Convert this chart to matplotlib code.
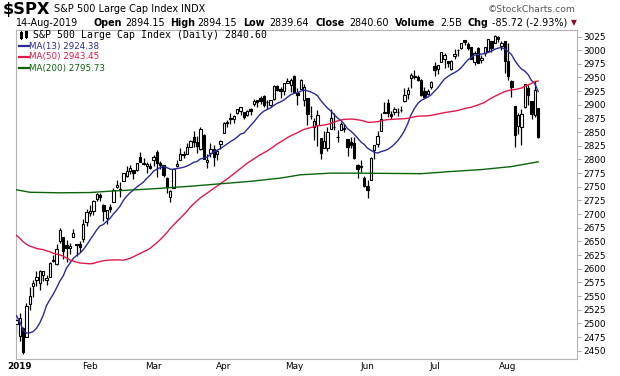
import numpy as np
import pandas as pd
import matplotlib
matplotlib.use('Agg')
import matplotlib.pyplot as plt
from matplotlib.lines import Line2D

# Trading days shown on the chart (31-Dec-2018 .. 14-Aug-2019)
holidays = ['2019-01-01', '2019-01-21', '2019-02-18', '2019-04-19', '2019-05-27', '2019-07-04']
dates = pd.bdate_range('2018-12-31', '2019-08-14', freq='C', holidays=holidays)

# Daily candles, S&P 500
opens = [2498.94,
         2476.96, 2491.92, 2474.33, 2535.61, 2568.11, 2580.00, 2573.51, 2588.11, 2580.31, 2585.10, 2614.75,
         2609.28, 2651.27, 2657.88, 2643.48, 2638.84, 2657.44, 2644.97, 2644.89, 2653.62, 2685.49,
         2702.32, 2706.49, 2728.34, 2735.05, 2717.53, 2692.36, 2712.40, 2722.61, 2750.30, 2743.50,
         2760.24, 2769.28, 2779.05, 2780.24, 2780.67, 2804.35, 2792.36, 2787.50, 2788.11,
         2798.22, 2814.37, 2794.41, 2790.27, 2766.53, 2730.79, 2747.61, 2787.34, 2799.78, 2810.38,
         2810.79, 2822.61, 2840.76, 2831.34, 2819.72, 2844.52, 2796.01, 2812.66, 2819.72, 2809.40, 2828.27,
         2848.63, 2868.24, 2876.09, 2873.99, 2884.16, 2888.46, 2886.58, 2881.37, 2891.92, 2900.86,
         2908.32, 2912.26, 2916.04, 2904.81, 2898.78, 2909.99, 2934.00, 2928.99, 2925.81, 2940.58, 2937.14,
         2952.33, 2922.16, 2929.21, 2908.89, 2913.03, 2879.61, 2859.84, 2863.10, 2840.19, 2820.12, 2820.38,
         2855.80, 2858.60, 2841.94, 2854.02, 2856.06, 2836.70, 2832.41, 2830.03, 2790.25, 2786.94, 2766.15,
         2751.53, 2762.64, 2818.09, 2828.51, 2852.87, 2885.83, 2903.27, 2882.73, 2886.24, 2886.82,
         2889.75, 2906.71, 2920.55, 2949.60, 2952.71, 2951.42, 2945.78, 2926.07, 2919.66, 2932.94,
         2971.41, 2964.66, 2978.08, 2984.25, 2979.77, 2965.52, 2989.30, 2999.62, 3003.36, 3017.80, 3012.13,
         3005.10, 2978.87, 3004.26, 2981.93, 2994.74, 2998.77, 3016.26, 3013.25, 3024.47, 3007.66, 3016.22,
         2980.32, 2943.90, 2898.07, 2861.18, 2858.65, 2896.21, 2930.51, 2907.07, 2880.72, 2894.15]
highs = [2509.24,
         2519.49, 2493.14, 2538.07, 2566.16, 2579.82, 2595.32, 2597.82, 2596.27, 2589.32, 2613.08, 2625.76,
         2645.06, 2675.47, 2657.88, 2653.19, 2647.20, 2672.38, 2644.97, 2650.93, 2690.44, 2708.95,
         2716.66, 2724.99, 2738.98, 2738.08, 2719.32, 2708.07, 2718.05, 2748.19, 2761.85, 2757.90,
         2775.66, 2787.33, 2789.88, 2781.58, 2794.20, 2813.49, 2803.12, 2795.76, 2793.73,
         2808.02, 2816.88, 2796.44, 2790.27, 2767.25, 2744.13, 2784.00, 2798.32, 2821.24, 2815.00,
         2830.73, 2835.41, 2852.42, 2843.54, 2860.31, 2846.16, 2809.79, 2829.87, 2825.56, 2819.71, 2836.03,
         2869.40, 2872.90, 2885.25, 2881.28, 2893.24, 2895.95, 2886.88, 2889.71, 2893.42, 2910.54,
         2909.60, 2916.06, 2918.00, 2908.40, 2909.51, 2936.31, 2936.83, 2933.10, 2939.88, 2949.52, 2948.22,
         2954.13, 2931.68, 2947.85, 2937.32, 2913.03, 2897.96, 2875.97, 2891.31, 2840.19, 2852.54, 2858.68,
         2892.15, 2885.48, 2853.86, 2868.88, 2865.47, 2836.70, 2841.36, 2840.51, 2792.03, 2799.00, 2768.98,
         2763.07, 2804.49, 2827.28, 2852.10, 2884.97, 2904.77, 2910.61, 2888.57, 2895.24, 2894.45,
         2897.27, 2930.79, 2931.74, 2958.06, 2964.15, 2954.92, 2946.52, 2932.59, 2929.30, 2943.98,
         2977.93, 2973.21, 2995.84, 2994.03, 2980.76, 2981.90, 3002.98, 3002.33, 3013.92, 3017.80, 3015.02,
         3005.26, 2998.28, 3006.02, 2990.71, 3005.90, 3019.59, 3016.31, 3027.98, 3025.61, 3017.19, 3017.40,
         3013.59, 2945.50, 2898.07, 2884.40, 2892.17, 2938.72, 2935.75, 2907.58, 2943.31, 2894.15]
lows = [2482.82,
        2467.47, 2443.96, 2474.33, 2524.56, 2547.56, 2568.89, 2562.02, 2577.40, 2570.41, 2585.10, 2612.68,
        2606.36, 2647.58, 2617.27, 2612.86, 2627.01, 2657.33, 2624.06, 2631.05, 2648.34, 2678.65,
        2696.88, 2698.75, 2724.03, 2724.15, 2687.26, 2681.83, 2703.79, 2722.61, 2748.63, 2731.23,
        2760.24, 2767.29, 2774.06, 2764.55, 2779.11, 2794.99, 2789.47, 2775.13, 2782.51,
        2787.38, 2767.66, 2782.97, 2768.69, 2739.09, 2722.27, 2747.61, 2786.73, 2799.78, 2803.46,
        2810.79, 2821.99, 2823.27, 2812.43, 2817.38, 2800.47, 2785.02, 2803.99, 2787.72, 2798.77, 2819.23,
        2848.63, 2858.75, 2865.17, 2867.14, 2882.99, 2880.78, 2873.33, 2879.13, 2881.99, 2898.37,
        2896.48, 2900.71, 2895.45, 2891.90, 2896.35, 2908.53, 2926.05, 2912.84, 2917.56, 2939.35, 2924.11,
        2923.36, 2900.50, 2929.21, 2898.21, 2862.60, 2873.28, 2836.40, 2825.39, 2801.43, 2820.12, 2815.08,
        2855.80, 2854.23, 2831.29, 2854.02, 2851.11, 2805.49, 2820.19, 2801.58, 2766.06, 2776.74, 2750.52,
        2728.81, 2762.64, 2800.92, 2822.45, 2852.87, 2885.51, 2878.53, 2874.68, 2881.99, 2879.62,
        2887.30, 2905.44, 2911.43, 2931.50, 2946.87, 2944.05, 2916.01, 2912.99, 2918.57, 2929.05,
        2952.22, 2955.92, 2977.96, 2967.97, 2970.09, 2963.44, 2984.62, 2988.80, 3001.87, 3008.77, 3001.15,
        2984.25, 2973.09, 2975.86, 2976.65, 2988.56, 2996.82, 2997.24, 3012.59, 3014.30, 3000.94, 2958.08,
        2945.23, 2914.11, 2822.12, 2847.42, 2825.71, 2894.47, 2900.15, 2873.14, 2877.05, 2839.64]
closes = [2506.85,
          2510.03, 2447.89, 2531.94, 2549.69, 2574.41, 2584.96, 2596.64, 2596.26, 2582.61, 2610.30, 2616.10,
          2635.96, 2670.71, 2632.90, 2638.70, 2642.33, 2664.76, 2643.85, 2640.00, 2681.05, 2704.10,
          2706.53, 2724.87, 2737.70, 2731.61, 2706.05, 2707.88, 2709.80, 2744.73, 2753.03, 2745.73,
          2775.60, 2779.76, 2784.70, 2774.88, 2792.67, 2796.11, 2793.90, 2792.38, 2784.49,
          2803.69, 2792.81, 2789.65, 2771.45, 2748.93, 2743.07, 2783.30, 2791.52, 2810.92, 2808.48,
          2822.48, 2832.94, 2832.57, 2824.23, 2854.88, 2800.71, 2798.36, 2818.46, 2805.37, 2815.44, 2834.40,
          2867.19, 2867.24, 2873.40, 2879.39, 2892.74, 2895.77, 2878.20, 2888.21, 2888.32, 2907.41,
          2905.58, 2907.06, 2900.45, 2905.03, 2907.97, 2933.68, 2927.25, 2926.17, 2939.88, 2943.03, 2945.83,
          2923.73, 2917.52, 2945.64, 2932.47, 2884.05, 2879.42, 2870.72, 2881.40, 2811.87, 2834.41, 2850.96,
          2876.32, 2859.53, 2840.23, 2864.36, 2856.27, 2822.24, 2826.06, 2802.39, 2783.02, 2788.86, 2752.06,
          2744.45, 2803.27, 2826.15, 2843.49, 2873.34, 2886.73, 2885.72, 2879.84, 2891.64, 2886.98,
          2889.67, 2917.75, 2926.46, 2954.18, 2950.46, 2945.35, 2917.38, 2913.78, 2924.92, 2941.76,
          2964.33, 2973.01, 2995.82, 2990.41, 2975.95, 2979.63, 2993.07, 2999.91, 3013.77, 3014.30, 3004.04,
          2984.42, 2995.11, 2976.61, 2985.03, 3005.47, 3019.56, 3003.67, 3025.86, 3020.97, 3013.18, 2980.38,
          2953.56, 2932.05, 2844.74, 2881.77, 2883.98, 2938.09, 2918.65, 2882.70, 2926.32, 2840.60]

# Closes before the window (18-Oct .. 28-Dec-2018), needed for MA(13) and MA(50)
prior_closes = [2768.78, 2767.78, 2755.88, 2740.69, 2656.10, 2705.57, 2658.69, 2641.25, 2682.63, 2711.74,
                2740.37, 2723.06, 2738.31, 2755.45, 2813.89, 2806.83, 2781.01, 2726.22, 2722.18, 2701.58,
                2730.20, 2736.27, 2690.73, 2641.89, 2649.93, 2632.56, 2673.45, 2682.17, 2743.79, 2737.80,
                2760.17, 2790.37, 2700.06, 2695.95, 2633.08, 2637.72, 2636.78, 2651.07, 2650.54, 2599.95,
                2545.94, 2546.16, 2506.96, 2467.42, 2416.62, 2351.10, 2467.70, 2488.83, 2485.74]

# MA(200)
ma200_dates = ['2018-12-31', '2019-01-07', '2019-01-18', '2019-02-01', '2019-02-11', '2019-02-28',
               '2019-03-18', '2019-03-29', '2019-04-11', '2019-04-25', '2019-05-03', '2019-05-16',
               '2019-05-28', '2019-06-25', '2019-07-09', '2019-07-22', '2019-08-02', '2019-08-14']
ma200_values = [2744.5, 2740, 2739, 2739.5, 2742, 2746, 2751, 2755.5, 2760, 2766, 2772, 2775,
                2775, 2774, 2778, 2781.5, 2787, 2795.73]

y_ticks = list(range(2450, 3026, 25))

opens = np.array(opens)
highs = np.array(highs)
lows = np.array(lows)
closes = np.array(closes)

all_closes = pd.Series(prior_closes + list(closes))
ma13 = all_closes.rolling(13).mean().values[len(prior_closes):]
ma50 = all_closes.rolling(50).mean().values[len(prior_closes):]

x = np.arange(len(dates))
x200 = dates.get_indexer(pd.to_datetime(ma200_dates))

W, H = 620, 376
fig = plt.figure(figsize=(W / 100, H / 100), dpi=100)
ax = fig.add_axes([16 / W, 1 - 359 / H, (577 - 16) / W, (359 - 30) / H])


def fx(px):
    return px / W


def fy(py):
    return 1 - py / H


# Candles: wicks first, then bodies (hollow = up day)
ax.vlines(x, lows, highs, color='black', linewidth=0.9, zorder=2)
up = closes >= opens
body_low = np.minimum(opens, closes)
body_h = np.maximum(np.abs(closes - opens), 0.9)
ax.bar(x, body_h, bottom=body_low, width=0.7,
       color=np.where(up, 'white', 'black'), edgecolor='black', linewidth=0.8, zorder=3)

# Moving averages
blue = '#2a2a9c'
red = '#e0194a'
green = '#0b640b'
ax.plot(x, ma13, color=blue, linewidth=1.0, zorder=4)
ax.plot(x, ma50, color=red, linewidth=1.0, zorder=4)
ax.plot(x200, ma200_values, color=green, linewidth=1.0, zorder=4)

ax.set_xlim(-0.12, 167.6)
ax.set_ylim(2434.9, 3036.9)

# Price axis on the right
ax.yaxis.tick_right()
ax.set_yticks(y_ticks)
ax.set_yticklabels([str(v) for v in y_ticks])
ax.tick_params(axis='y', length=3, width=0.6, color='#9a9a9a', labelsize=6.4, pad=1.5, labelcolor='black')

# Month labels at the first trading day of each month
month_idx = [1] + [i for i in range(2, len(dates)) if dates[i].month != dates[i - 1].month]
month_lab = ['2019'] + [dates[i].strftime('%b') for i in month_idx[1:]]
ax.set_xticks(month_idx)
ax.set_xticklabels(month_lab)
ax.tick_params(axis='x', length=0, labelsize=6.4, pad=2.5)
ax.get_xticklabels()[0].set_fontweight('bold')

for side in ['left', 'top', 'right']:
    ax.spines[side].set_color('#b4b4b4')
    ax.spines[side].set_linewidth(0.8)
ax.spines['bottom'].set_color('#b4b4b4')
ax.spines['bottom'].set_linestyle((0, (1, 1)))
ax.spines['bottom'].set_linewidth(0.8)

# Header
fig.text(fx(3), fy(9.5), '$SPX', fontsize=11.7, fontweight='bold', va='center', parse_math=False)
fig.text(fx(54), fy(9), 'S&P 500 Large Cap Index', fontsize=7, va='center')
fig.text(fx(181), fy(9), 'INDX', fontsize=6.9, va='center')
fig.text(fx(576), fy(9), '\u00a9StockCharts.com', fontsize=6.7, color='#555555', ha='right', va='center')

row2 = [(16, '14-Aug-2019', 'normal'),
        (94, 'Open', 'bold'), (125, '2894.15', 'normal'),
        (170, 'High', 'bold'), (197, '2894.15', 'normal'),
        (243, 'Low', 'bold'), (269, '2839.64', 'normal'),
        (315, 'Close', 'bold'), (349, '2840.60', 'normal'),
        (395, 'Volume', 'bold'), (440, '2.5B', 'normal'),
        (468, 'Chg', 'bold'), (492, '-85.72 (-2.93%)', 'normal')]
for px, txt, wt in row2:
    fig.text(fx(px), fy(22.5), txt, fontsize=6.9, fontweight=wt, va='center')
fig.text(fx(571), fy(22.5), '\u25bc', fontsize=5.5, color='#8b0a28', va='center')

# Legend inside the plot
fig.text(fx(33), fy(35), 'S&P 500 Large Cap Index (Daily) 2840.60', family='DejaVu Sans Mono',
         fontsize=7.1, va='center')
# small candlestick icon
for cx, y0, y1, b0, b1 in [(21, 31, 39, 33, 37), (25.5, 30.5, 38, 32, 35.5)]:
    fig.add_artist(Line2D([fx(cx), fx(cx)], [fy(y0), fy(y1)], color='black', linewidth=0.7))
    fig.add_artist(Line2D([fx(cx), fx(cx)], [fy(b0), fy(b1)], color='black', linewidth=2.2))

legend_rows = [(46, 'MA(13) 2924.38', blue), (57, 'MA(50) 2943.45', red), (68, 'MA(200) 2795.73', green)]
for py, txt, col in legend_rows:
    fig.add_artist(Line2D([fx(19.5), fx(28.5)], [fy(py), fy(py)], color=col, linewidth=1.6))
    fig.text(fx(29.5), fy(py), txt, fontsize=6.3, color=col, va='center')

fig.savefig('out.png', dpi=100)
